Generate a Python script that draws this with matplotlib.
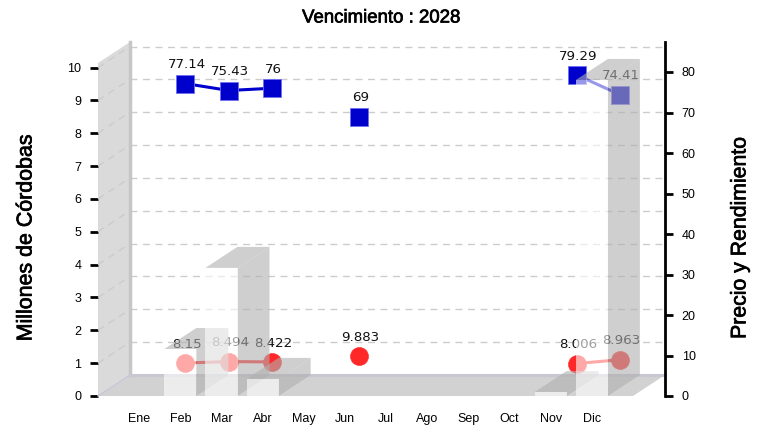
import numpy as np
import matplotlib
matplotlib.use('Agg')
import matplotlib.pyplot as plt
import matplotlib.patheffects as pe
from matplotlib.patches import Polygon

# data
months = ['Ene','Feb','Mar','Abr','May','Jun','Jul','Ago','Sep','Oct','Nov','Dic']
month_pos = np.arange(1, 13)
monto = [0, 1.43, 3.9, 0.52, 0, 0, 0, 0, 0, 0, 0.12, 9.62]
precio = [np.nan, 77.14, 75.43, 76, np.nan, 69, np.nan, np.nan, np.nan, np.nan, 79.29, 74.41]
rendimiento = [np.nan, 8.15, 8.494, 8.422, np.nan, 9.883, np.nan, np.nan, np.nan, np.nan, 8.006, 8.963]
precio_txt = ['', '77.14', '75.43', '76', '', '69', '', '', '', '', '79.29', '74.41']
rend_txt = ['', '8.15', '8.494', '8.422', '', '9.883', '', '', '', '', '8.006', '8.963']
left_ticks = list(range(0, 11))
right_ticks = list(range(0, 90, 10))

W, H = 759, 429
fig = plt.figure(figsize=(W/100, H/100), dpi=100)

def box(x0, ytop, x1, ybot):
    return [x0/W, 1-ybot/H, (x1-x0)/W, (ybot-ytop)/H]

# front plane holds left scale, bars use the same one
ax = fig.add_axes(box(98, 63, 633, 396))
ax.set_xlim(0, 13)
ax.set_ylim(0, 333/32.85)
DX = 32/41.15
DY = 21/32.85
ymax = 333/32.85

ax.add_patch(Polygon([(0,0),(DX,DY),(DX,ymax+DY),(0,ymax)], closed=True, fc='#dadada', ec='none', clip_on=False))
ax.add_patch(Polygon([(0,0),(DX,DY),(13+DX,DY),(13,0)], closed=True, fc='#d2d2d2', ec='none', clip_on=False))
ax.plot([DX,DX], [DY,ymax+DY], color='#c6c6c6', lw=2.5, clip_on=False, zorder=3)
ax.plot([0,DX], [0,DY], color='#c8c8d8', lw=1, clip_on=False, zorder=3)
ax.plot([DX,13+DX], [DY,DY], color='#c8c8d2', lw=2.2, clip_on=False, zorder=3)
for v in left_ticks[1:]:
    ax.plot([0,DX], [v,v+DY], color='#cccccc', lw=1, ls=(0,(5,4)), clip_on=False, zorder=2)
    ax.plot([DX,13+DX], [v+DY,v+DY], color='#cccccc', lw=1, ls=(0,(5,4)), clip_on=False, zorder=2)

for s in ax.spines.values():
    s.set_visible(False)
ax.patch.set_visible(False)
ax.set_yticks(left_ticks)
ax.tick_params(axis='y', length=6, width=2, pad=6, labelsize=9)
ax.set_xticks(month_pos)
ax.set_xticklabels(months)
ax.tick_params(axis='x', length=0, pad=12, labelsize=9)
for t in ax.get_xticklabels()+ax.get_yticklabels():
    t.set_fontfamily('Liberation Sans')

# back plane holds right scale and the points
ax2 = fig.add_axes(box(130, 42, 665, 396))
ax2.set_xlim(1-(142-130)/43.45, 1+(665-142)/43.45)
ax2.set_ylim(0, 354/4.05)
ax2.patch.set_visible(False)
for k in ['left','top','bottom']:
    ax2.spines[k].set_visible(False)
ax2.spines['right'].set_linewidth(2)
ax2.set_xticks([])
ax2.yaxis.tick_right()
ax2.set_yticks(right_ticks)
ax2.tick_params(axis='y', length=6, width=2, pad=6, labelsize=9)
for t in ax2.get_yticklabels():
    t.set_fontfamily('Liberation Sans')

ax2.plot(month_pos, precio, color='#0000cd', lw=2.2, marker='s', ms=13, mfc='#0000cd', mec='#6f6ff0', mew=0.6, clip_on=False)
ax2.plot(month_pos, rendimiento, color='#ff2828', lw=2.2, marker='o', ms=13, mfc='#ff2828', mec='#ff2828', mew=0.4, clip_on=False)
for i in range(12):
    if precio_txt[i]:
        ax2.annotate(precio_txt[i], (month_pos[i], precio[i]), xytext=(1, 13.5), textcoords='offset points',
                     ha='center', va='center', fontsize=9.6, color='#111111')
    if rend_txt[i]:
        ax2.annotate(rend_txt[i], (month_pos[i], rendimiento[i]), xytext=(1, 13.5), textcoords='offset points',
                     ha='center', va='center', fontsize=9.6, color='#111111')

# bars on top of everything, semi transparent like the original
ax3 = fig.add_axes(box(98, 63, 633, 396))
ax3.set_xlim(0, 13)
ax3.set_ylim(0, ymax)
ax3.axis('off')
BW = 0.78
for x, v in zip(month_pos, monto):
    if v <= 0:
        continue
    l, r = x-BW/2, x+BW/2
    ax3.add_patch(Polygon([(r,0),(r+DX,DY),(r+DX,v+DY),(r,v)], closed=True, fc='#b0b0b0', alpha=0.6, ec='none', clip_on=False))
    ax3.add_patch(Polygon([(l,v),(l+DX,v+DY),(r+DX,v+DY),(r,v)], closed=True, fc='#b0b0b0', alpha=0.6, ec='none', clip_on=False))
    ax3.add_patch(Polygon([(l,0),(r,0),(r,v),(l,v)], closed=True, fc='white', alpha=0.6, ec='none', clip_on=False))

stroke = [pe.withStroke(linewidth=0.5, foreground='black')]
fig.text(381/W, 1-18/H, 'Vencimiento : 2028', ha='center', va='center', fontsize=13.4, family='Liberation Sans', path_effects=stroke)
fig.text(26/W, 1-238/H, 'Millones de Córdobas', ha='center', va='center', rotation=90, fontsize=15.4, family='Liberation Sans', path_effects=stroke)
fig.text(740/W, 1-238/H, 'Precio y Rendimiento', ha='center', va='center', rotation=90, fontsize=15.3, family='Liberation Sans', path_effects=stroke)

plt.savefig('out.png', dpi=100)
